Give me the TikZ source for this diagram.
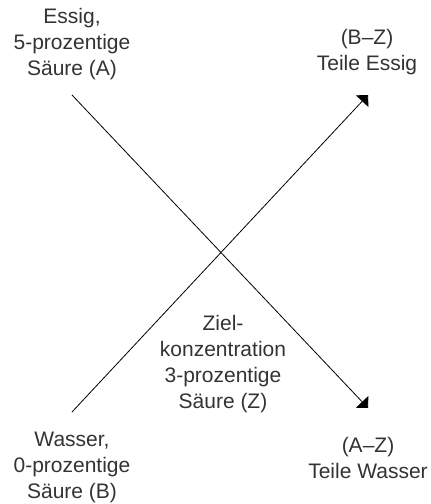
\documentclass[tikz,border=0pt]{standalone}
\usepackage{fontspec}
\setmainfont{Liberation Sans}
\usetikzlibrary{arrows.meta}
\definecolor{labelgray}{HTML}{333333}
\begin{document}
\begin{tikzpicture}[x=1pt,y=-1pt,
  lbl/.style={align=center,inner sep=0pt,text=labelgray,
    font=\fontsize{21}{26}\selectfont},
  mixline/.style={line width=0.8pt,-{Triangle[length=8.5pt,width=17pt]}}]
  \useasboundingbox (0,0) rectangle (431,504);
  % corner and centre labels
  \node[lbl] (A) at (72,44) {Essig,\\5-prozentige\\Säure (A)};
  \node[lbl] (BZ) at (367,52) {(B–Z)\\Teile Essig};
  \node[lbl] (Z) at (223,364) {Ziel-\\konzentration\\3-prozentige\\Säure (Z)};
  \node[lbl] (AZ) at (368,458) {(A–Z)\\Teile Wasser};
  \node[lbl] (B) at (72,467) {Wasser,\\0-prozentige\\Säure (B)};
  % crossing arrows
  \coordinate (a1) at (72,95);
  \coordinate (a2) at (368,408);
  \coordinate (b1) at (72,412);
  \coordinate (b2) at (368,95);
  \draw[mixline] (a1) -- (a2);
  \draw[mixline] (b1) -- (b2);
\end{tikzpicture}
\end{document}
